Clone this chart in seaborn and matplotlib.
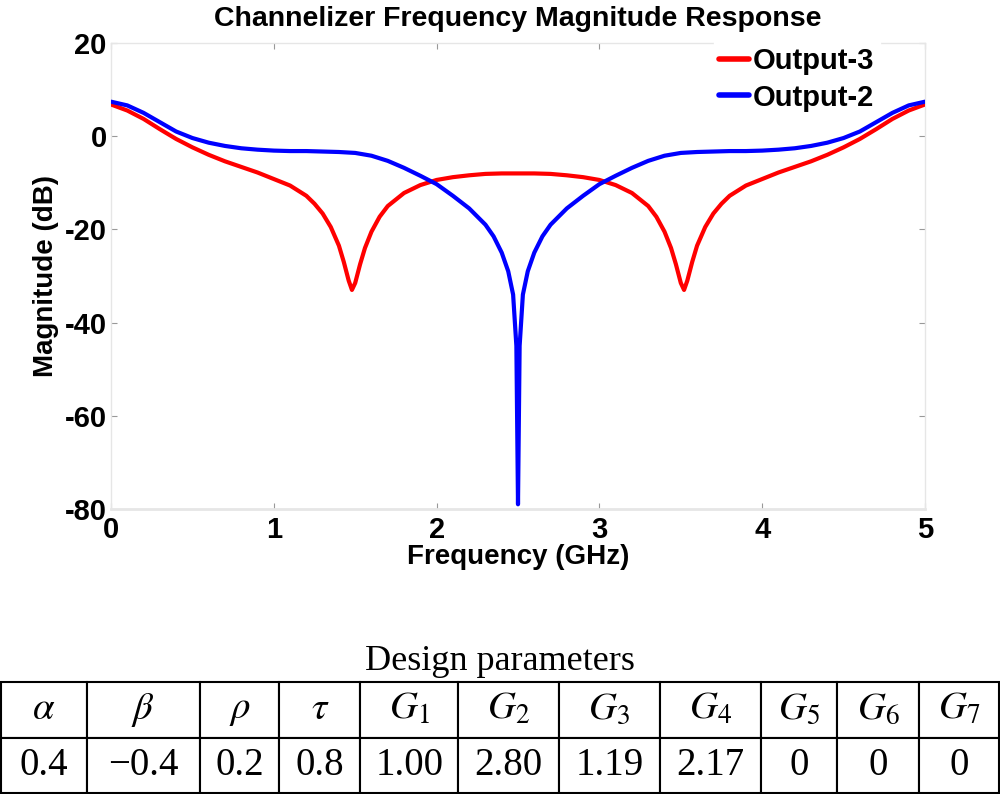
import matplotlib
matplotlib.use("Agg")
import matplotlib.pyplot as plt
import seaborn as sns
import pandas as pd

# ---------------- data ----------------
freq_out3 = [0, 0.1, 0.2, 0.3, 0.4, 0.5, 0.6, 0.7, 0.8, 0.9, 1.0, 1.1, 1.2, 1.25, 1.3, 1.35,
             1.4, 1.43, 1.46, 1.48, 1.50, 1.53, 1.56, 1.6, 1.65, 1.7, 1.8, 1.9, 2.0, 2.1, 2.2,
             2.3, 2.4, 2.5, 2.6, 2.7, 2.8, 2.9, 3.0, 3.1, 3.2, 3.3, 3.35, 3.4, 3.44, 3.47, 3.50,
             3.52, 3.54, 3.57, 3.6, 3.65, 3.7, 3.75, 3.8, 3.9, 4.0, 4.1, 4.2, 4.3, 4.4, 4.5,
             4.6, 4.7, 4.8, 4.9, 5.0]
mag_out3 = [6.8, 5.5, 3.7, 1.5, -0.6, -2.4, -4.0, -5.4, -6.6, -7.8, -9.2, -10.6, -12.8, -14.5,
            -16.6, -19.5, -23.5, -27.0, -31.0, -33.0, -31.5, -27.5, -24.0, -20.5, -17.3, -15.0,
            -12.2, -10.5, -9.4, -8.8, -8.4, -8.1, -8.0, -8.0, -8.0, -8.1, -8.4, -8.8, -9.4,
            -10.5, -12.2, -15.0, -17.3, -20.5, -24.0, -27.5, -31.5, -33.0, -31.0, -27.0, -23.5,
            -19.5, -16.6, -14.5, -12.8, -10.6, -9.2, -7.8, -6.6, -5.4, -4.0, -2.4, -0.6, 1.5,
            3.7, 5.5, 6.8]

freq_out2 = [0, 0.1, 0.2, 0.3, 0.4, 0.5, 0.6, 0.7, 0.8, 0.9, 1.0, 1.1, 1.2, 1.3, 1.4, 1.5,
             1.6, 1.7, 1.8, 1.9, 2.0, 2.1, 2.2, 2.3, 2.35, 2.4, 2.44, 2.47, 2.49, 2.5,
             2.51, 2.53, 2.56, 2.6, 2.65, 2.7, 2.8, 2.9, 3.0, 3.1, 3.2, 3.3, 3.4, 3.5, 3.6,
             3.7, 3.8, 3.9, 4.0, 4.1, 4.2, 4.3, 4.4, 4.5, 4.6, 4.7, 4.8, 4.9, 5.0]
mag_out2 = [7.4, 6.6, 5.0, 3.0, 1.0, -0.4, -1.4, -2.1, -2.6, -2.9, -3.1, -3.2, -3.2, -3.3,
            -3.4, -3.6, -4.2, -5.3, -6.8, -8.5, -10.3, -12.8, -15.5, -19.0, -21.5, -25.0,
            -29.0, -34.0, -45.0, -79.0, -45.0, -34.0, -29.0, -25.0, -21.5, -19.0, -15.5,
            -12.8, -10.3, -8.5, -6.8, -5.3, -4.2, -3.6, -3.4, -3.3, -3.2, -3.2, -3.1, -2.9,
            -2.6, -2.1, -1.4, -0.4, 1.0, 3.0, 5.0, 6.6, 7.4]

series_names = ["Output-3", "Output-2"]
series_colors = ["#ff0000", "#0000ff"]

x_ticks = [0, 1, 2, 3, 4, 5]
y_ticks = [20, 0, -20, -40, -60, -80]

table_title = "Design parameters"
param_names = [r"$\alpha$", r"$\beta$", r"$\rho$", r"$\tau$", r"$G_1$", r"$G_2$", r"$G_3$",
               r"$G_4$", r"$G_5$", r"$G_6$", r"$G_7$"]
param_values = ["0.4", "\u22120.4", "0.2", "0.8", "1.00", "2.80", "1.19", "2.17", "0", "0", "0"]
col_edges = [0, 86, 199, 279, 360, 458, 559, 660, 762, 838, 920, 1000]

# ---------------- style ----------------
sns.set_theme(style="white")
plt.rcParams["font.family"] = ["Liberation Sans", "DejaVu Sans"]
plt.rcParams["mathtext.fontset"] = "stix"
plt.rcParams["text.color"] = "black"
plt.rcParams["axes.labelcolor"] = "black"
plt.rcParams["xtick.labelcolor"] = "black"
plt.rcParams["ytick.labelcolor"] = "black"

df = pd.concat([
    pd.DataFrame({"Frequency": freq_out3, "Magnitude": mag_out3, "Series": series_names[0]}),
    pd.DataFrame({"Frequency": freq_out2, "Magnitude": mag_out2, "Series": series_names[1]}),
], ignore_index=True)

fig = plt.figure(figsize=(10, 7.94), dpi=100)
ax = fig.add_axes([0.111, 0.359, 0.814, 0.5869])

sns.lineplot(data=df, x="Frequency", y="Magnitude", hue="Series", hue_order=series_names,
             palette=series_colors, linewidth=3.0, sort=False, estimator=None, ax=ax)
for ln in ax.get_lines():
    ln.set_zorder(4)

ax.set_xlim(0, 5)
ax.set_ylim(-80, 20)
ax.set_xticks(x_ticks)
ax.set_yticks(y_ticks)
ax.set_xticklabels([str(t) for t in x_ticks], fontsize=21, fontweight="bold")
ax.set_yticklabels([str(t) for t in y_ticks], fontsize=21, fontweight="bold")
ax.tick_params(direction="in", length=4, width=0.8, color="#999999",
               top=True, right=True, bottom=True, left=True)
ax.tick_params(axis="x", pad=5)
ax.tick_params(axis="y", pad=3)
for s in ax.spines.values():
    s.set_color("#e6e6e6")
    s.set_linewidth(1.0)
ax.spines["bottom"].set_linewidth(2.0)

ax.set_xlabel("Frequency (GHz)", fontsize=20, fontweight="bold", labelpad=0)
ax.set_ylabel("Magnitude (dB)", fontsize=20, fontweight="bold", labelpad=4)
ax.set_title("Channelizer Frequency Magnitude Response", fontsize=20.5, fontweight="bold", pad=12)

leg = ax.legend(loc="upper right", bbox_to_anchor=(0.945, 1.004), frameon=True,
                fontsize=21, handlelength=1.0, handletextpad=0.15, borderpad=0.2,
                labelspacing=0.3, fancybox=False, borderaxespad=0)
leg.set_zorder(3)
leg.get_frame().set_edgecolor("white")
leg.get_frame().set_facecolor("white")
leg.get_frame().set_alpha(1.0)
for t in leg.get_texts():
    t.set_fontweight("bold")
for h in leg.get_lines():
    h.set_linewidth(4.0)

# ---------------- table ----------------
tax = fig.add_axes([0.0, 0.0, 1.0, 113 / 794])
tax.axis("off")
widths = [(col_edges[i + 1] - col_edges[i]) / 1000 for i in range(len(col_edges) - 1)]
tbl = tax.table(cellText=[param_names, param_values], colWidths=widths,
                cellLoc="center", bbox=[0.001, 0.005, 0.998, 0.99])
tbl.auto_set_font_size(False)
for (r, c), cell in tbl.get_celld().items():
    cell.set_edgecolor("black")
    cell.set_linewidth(1.5)
    cell.get_text().set_fontsize(28)
    cell.get_text().set_fontfamily(["Liberation Serif", "DejaVu Serif"])
fig.text(0.5, 1 - 662 / 794, table_title, ha="center", va="center", fontsize=26,
         family=["Liberation Serif", "DejaVu Serif"])

fig.savefig("out.png", dpi=100, facecolor="white")
